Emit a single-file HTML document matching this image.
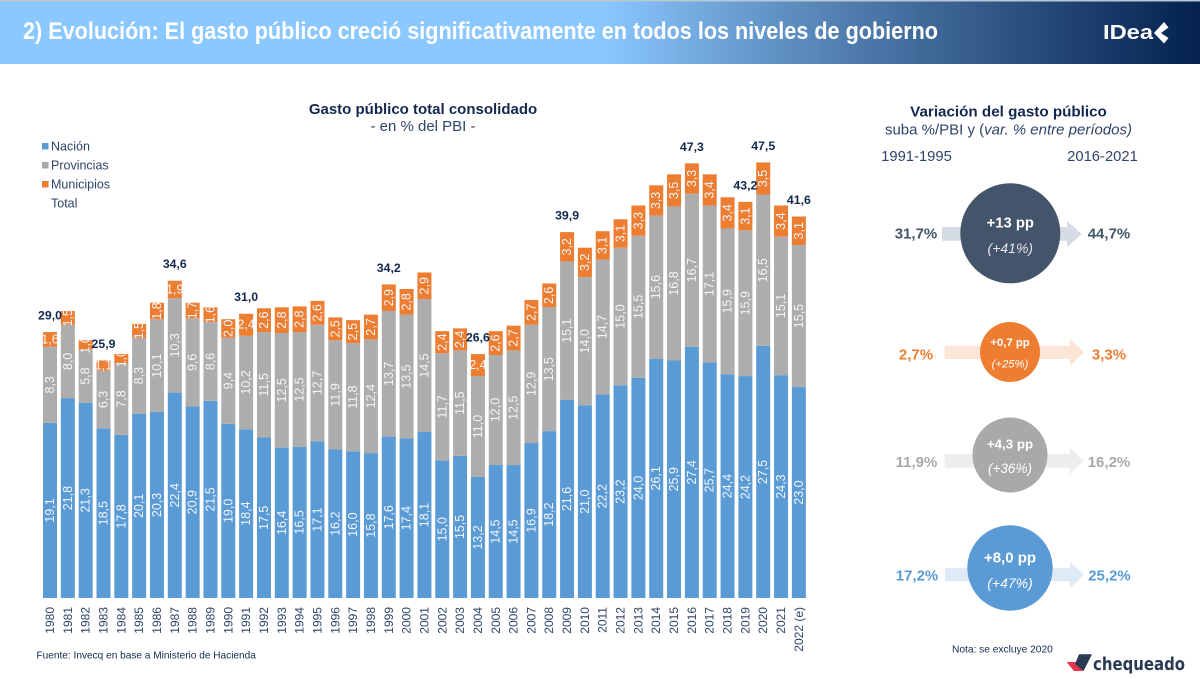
<!DOCTYPE html>
<html lang="es">
<head>
<meta charset="utf-8">
<title>Evolución del gasto público</title>
<style>
html,body{margin:0;padding:0;background:#fff;}
svg{display:block;font-family:"Liberation Sans",Arial,sans-serif;}
</style>
</head>
<body>
<svg id="root" width="1200" height="679" viewBox="0 0 1200 679" xmlns="http://www.w3.org/2000/svg">
<defs>
<linearGradient id="hdr" x1="0" y1="0" x2="1" y2="0">
<stop offset="0" stop-color="#8ac8ff"/>
<stop offset="0.5" stop-color="#8ac8ff"/>
<stop offset="0.7" stop-color="#527fb0"/>
<stop offset="1" stop-color="#04214f"/>
</linearGradient>
</defs>
<rect width="1200" height="679" fill="#fff"/>
<g>
<rect width="1200" height="64" fill="url(#hdr)"/>
<rect width="1200" height="1.5" fill="#b9c6d4"/>
<text x="23" y="39" font-size="24" font-weight="700" fill="#fff" textLength="915" lengthAdjust="spacingAndGlyphs">2) Evolución: El gasto público creció significativamente en todos los niveles de gobierno</text>
<g>
<text x="1103" y="39" font-size="20" font-weight="700" fill="#fff" textLength="50" lengthAdjust="spacingAndGlyphs">IDea</text>
<polygon points="1164,22 1168.5,27.5 1161,33 1168.5,38 1164,43.5 1154,33" fill="#fff"/>
</g>
</g>

<g>
<text x="423" y="114" text-anchor="middle" font-size="15" font-weight="700" fill="#14284f">Gasto público total consolidado</text>
<text x="423" y="131" text-anchor="middle" font-size="15" fill="#2f4468">- en % del PBI -</text>
</g>

<g>
<g><rect x="42" y="143" width="6.5" height="6.5" fill="#5b9bd5"/><text x="51" y="150.5" font-size="12.5" fill="#2f4468">Nación</text></g>
<g><rect x="42" y="162" width="6.5" height="6.5" fill="#a9a9a9"/><text x="51" y="169.5" font-size="12.5" fill="#2f4468">Provincias</text></g>
<g><rect x="42" y="181" width="6.5" height="6.5" fill="#ed7d31"/><text x="51" y="188.5" font-size="12.5" fill="#2f4468">Municipios</text></g>
<g><text x="51" y="207.5" font-size="12.5" fill="#2f4468">Total</text></g>
</g>

<g id="bars"></g>
<g id="xaxis"></g>

<text x="36.5" y="658.5" font-size="10.1" fill="#14284f">Fuente: Invecq en base a Ministerio de Hacienda</text>

<g>
<text x="1008.5" y="116.5" text-anchor="middle" font-size="15.2" font-weight="700" fill="#14284f">Variación del gasto público</text>
<text x="1008.5" y="134.5" text-anchor="middle" font-size="15" fill="#2f4468">suba %/PBI y (<tspan font-style="italic">var. % entre períodos)</tspan></text>
<text x="916.5" y="161" text-anchor="middle" font-size="14.8" fill="#2f4468">1991-1995</text>
<text x="1102.5" y="161" text-anchor="middle" font-size="14.8" fill="#2f4468">2016-2021</text>
</g>

<g>
<polygon points="942,227 1067,227 1067,220.7 1081.7,234 1067,247.3 1067,240.7 942,240.7" fill="#d6dce5"/>
<circle cx="1010.3" cy="233.3" r="50" fill="#44546a"/>
<text x="1010.3" y="227.5" text-anchor="middle" font-size="14.8" font-weight="700" fill="#fff">+13 pp</text>
<text x="1010.3" y="253" text-anchor="middle" font-size="14" font-style="italic" fill="#e4e7ec">(+41%)</text>
<text x="916" y="238.5" text-anchor="middle" font-size="15" font-weight="700" fill="#44546a">31,7%</text>
<text x="1109" y="238.5" text-anchor="middle" font-size="15" font-weight="700" fill="#44546a">44,7%</text>
</g>

<g>
<polygon points="944.7,345.7 1070,345.7 1070,338.7 1084,352.4 1070,366 1070,359 944.7,359" fill="#fbe5d6"/>
<circle cx="1010" cy="352" r="30" fill="#ed7d31"/>
<text x="1010" y="346" text-anchor="middle" font-size="11.3" font-weight="700" fill="#fff">+0,7 pp</text>
<text x="1010" y="367.5" text-anchor="middle" font-size="11.3" font-style="italic" fill="#fff">(+25%)</text>
<text x="916" y="359.5" text-anchor="middle" font-size="15" font-weight="700" fill="#ed7d31">2,7%</text>
<text x="1109" y="359.5" text-anchor="middle" font-size="15" font-weight="700" fill="#ed7d31">3,3%</text>
</g>

<g>
<polygon points="944.7,454 1070,454 1070,447.7 1083,461 1070,474.3 1070,467.7 944.7,467.7" fill="#ededed"/>
<circle cx="1010" cy="455" r="37.5" fill="#a9a9a9"/>
<text x="1010" y="448.5" text-anchor="middle" font-size="13.3" font-weight="700" fill="#fff">+4,3 pp</text>
<text x="1010" y="473" text-anchor="middle" font-size="13.5" font-style="italic" fill="#fff">(+36%)</text>
<text x="916.5" y="467" text-anchor="middle" font-size="15" font-weight="700" fill="#a9a9a9">11,9%</text>
<text x="1109" y="467" text-anchor="middle" font-size="15" font-weight="700" fill="#a9a9a9">16,2%</text>
</g>

<g>
<polygon points="945,568 1070,568 1070,561.7 1084,574.7 1070,587.7 1070,581.3 945,581.3" fill="#deebf7"/>
<circle cx="1010" cy="568" r="42.7" fill="#5b9bd5"/>
<text x="1010" y="562.5" text-anchor="middle" font-size="15" font-weight="700" fill="#fff">+8,0 pp</text>
<text x="1010" y="588" text-anchor="middle" font-size="14" font-style="italic" fill="#fff">(+47%)</text>
<text x="917" y="580.5" text-anchor="middle" font-size="15" font-weight="700" fill="#5b9bd5">17,2%</text>
<text x="1109.5" y="580.5" text-anchor="middle" font-size="15" font-weight="700" fill="#5b9bd5">25,2%</text>
</g>

<text x="952" y="652.5" font-size="10.2" fill="#14284f">Nota: se excluye 2020</text>

<g>
<polygon points="1066.5,662 1078,662 1083,671 1074,671" fill="#e8344f"/>
<polygon points="1079,654.3 1092,654.3 1083.5,671 1075,664" fill="#2a3a52"/>
<text x="1093" y="670" font-family="'DejaVu Sans',sans-serif" font-size="17.5" font-weight="700" fill="#2a3a52" textLength="92" lengthAdjust="spacingAndGlyphs">chequeado</text>
</g>
</svg>

<script>
const years = ["1980","1981","1982","1983","1984","1985","1986","1987","1988","1989","1990","1991","1992","1993","1994","1995","1996","1997","1998","1999","2000","2001","2002","2003","2004","2005","2006","2007","2008","2009","2010","2011","2012","2013","2014","2015","2016","2017","2018","2019","2020","2021","2022 (e)"];
const nacion = [19.1,21.8,21.3,18.5,17.8,20.1,20.3,22.4,20.9,21.5,19.0,18.4,17.5,16.4,16.5,17.1,16.2,16.0,15.8,17.6,17.4,18.1,15.0,15.5,13.2,14.5,14.5,16.9,18.2,21.6,21.0,22.2,23.2,24.0,26.1,25.9,27.4,25.7,24.4,24.2,27.5,24.3,23.0];
const provincias = [8.3,8.0,5.8,6.3,7.8,8.3,10.1,10.3,9.6,8.6,9.4,10.2,11.5,12.5,12.5,12.7,11.9,11.8,12.4,13.7,13.5,14.5,11.7,11.5,11.0,12.0,12.5,12.9,13.5,15.1,14.0,14.7,15.0,15.5,15.6,16.8,16.7,17.1,15.9,15.9,16.5,15.1,15.5];
const municipios = [1.6,1.5,1.0,1.1,1.0,1.5,1.8,1.9,1.7,1.6,2.0,2.4,2.6,2.8,2.8,2.6,2.5,2.5,2.7,2.9,2.8,2.9,2.4,2.4,2.4,2.6,2.7,2.7,2.6,3.2,3.2,3.1,3.1,3.3,3.3,3.5,3.3,3.4,3.4,3.1,3.5,3.4,3.1];
const totalYears = ["1980","1983","1987","1991","1999","2004","2009","2016","2019","2020","2022 (e)"];
const totalValues = [29.0,25.9,34.6,31.0,34.2,26.6,39.9,47.3,43.2,47.5,41.6];
const flatLabelYears = ["1980","1983","1987","1991","2004"];

const NS = "http://www.w3.org/2000/svg";
const baseY = 598, pxPerUnit = 9.17, firstX = 50, pitch = 17.83, barW = 14;
const xScale = i => firstX + i * pitch;
const yScale = v => baseY - v * pxPerUnit;
const fmt = v => v.toFixed(1).replace(".", ",");
const barsG = document.getElementById("bars");
const axisG = document.getElementById("xaxis");

function addSegment(parent, i, start, value, fill, flat) {
  const cx = xScale(i);
  const top = yScale(start + value);
  const h = value * pxPerUnit;
  const r = document.createElementNS(NS, "rect");
  
  
  r.setAttribute("x", cx - barW / 2);
  r.setAttribute("y", top);
  r.setAttribute("width", barW);
  r.setAttribute("height", h);
  r.setAttribute("fill", fill);
  parent.appendChild(r);
  const t = document.createElementNS(NS, "text");
  
  
  const cy = top + h / 2;
  t.setAttribute("text-anchor", "middle");
  t.setAttribute("dominant-baseline", "central");
  t.setAttribute("font-size", "12.5");
  t.setAttribute("fill", "#f2f6fa");
  t.setAttribute("x", cx);
  t.setAttribute("y", cy);
  if (!flat) t.setAttribute("transform", "rotate(-90 " + cx + " " + cy + ")");
  t.textContent = fmt(value);
  parent.appendChild(t);
}

years.forEach((year, i) => {
  const g = document.createElementNS(NS, "g");
  
  
  addSegment(g, i, 0, nacion[i], "#5b9bd5", false);
  addSegment(g, i, nacion[i], provincias[i], "#adadad", false);
  addSegment(g, i, nacion[i] + provincias[i], municipios[i], "#ed7d31", flatLabelYears.includes(year));
  barsG.appendChild(g);

  const cx = xScale(i);
  const tick = document.createElementNS(NS, "text");
  
  
  tick.setAttribute("text-anchor", "end");
  tick.setAttribute("dominant-baseline", "central");
  tick.setAttribute("font-size", "12");
  tick.setAttribute("fill", "#2f4468");
  tick.setAttribute("x", cx);
  tick.setAttribute("y", 607);
  tick.setAttribute("transform", "rotate(-90 " + cx + " 607)");
  tick.textContent = year;
  axisG.appendChild(tick);
});

totalYears.forEach((year, k) => {
  const i = years.indexOf(year);
  const sum = nacion[i] + provincias[i] + municipios[i];
  const t = document.createElementNS(NS, "text");
  
  
  t.setAttribute("x", xScale(i));
  t.setAttribute("y", yScale(sum) - 16.5);
  t.setAttribute("text-anchor", "middle");
  t.setAttribute("dominant-baseline", "central");
  t.setAttribute("font-size", "12.3");
  t.setAttribute("font-weight", "700");
  t.setAttribute("fill", "#14284f");
  t.textContent = fmt(totalValues[k]);
  barsG.appendChild(t);
});
</script>
</body>
</html>
